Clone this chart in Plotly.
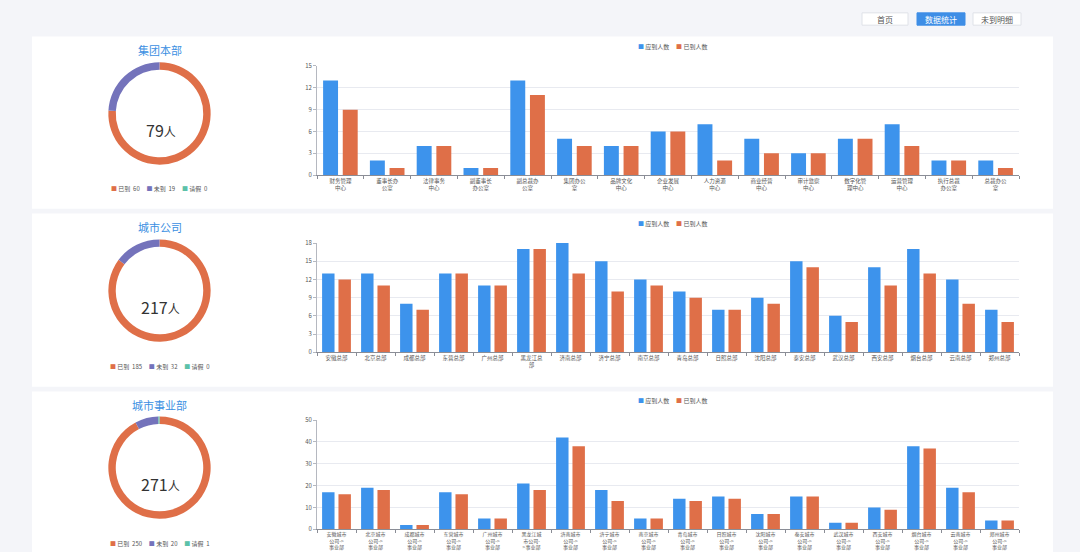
import plotly.graph_objects as go

W, H = 1080, 552
FONT = "Noto Sans CJK SC"

# ---------------- data ----------------
panel_titles = ["集团本部", "城市公司", "城市事业部"]
pie_labels = ["已到", "未到", "请假"]
pie_values = [
    [60, 19, 0],
    [185, 32, 0],
    [250, 20, 1],
]
series_names = ["应到人数", "已到人数"]

cats1 = ["财务管理中心", "董事长办公室", "法律事务中心", "副董事长办公室", "副总裁办公室",
         "集团办公室", "品牌文化中心", "企业发展中心", "人力资源中心", "商业经营中心",
         "审计监察中心", "数字化管理中心", "运营管理中心", "执行总裁办公室", "总裁办公室"]
due1 = [13, 2, 4, 1, 13, 5, 4, 6, 7, 5, 3, 5, 7, 2, 2]
arr1 = [9, 1, 4, 1, 11, 4, 4, 6, 2, 3, 3, 5, 4, 2, 1]

cats2 = ["安徽总部", "北京总部", "成都总部", "东营总部", "广州总部", "黑龙江总部",
         "济南总部", "济宁总部", "南京总部", "青岛总部", "日照总部", "沈阳总部",
         "泰安总部", "武汉总部", "西安总部", "烟台总部", "云南总部", "郑州总部"]
due2 = [13, 13, 8, 13, 11, 17, 18, 15, 12, 10, 7, 9, 15, 6, 14, 17, 12, 7]
arr2 = [12, 11, 7, 13, 11, 17, 13, 10, 11, 9, 7, 8, 14, 5, 11, 13, 8, 5]

cats3 = ["安徽城市公司->事业部", "北京城市公司->事业部", "成都城市公司->事业部",
         "东营城市公司->事业部", "广州城市公司->事业部", "黑龙江城市公司->事业部",
         "济南城市公司->事业部", "济宁城市公司->事业部", "南京城市公司->事业部",
         "青岛城市公司->事业部", "日照城市公司->事业部", "沈阳城市公司->事业部",
         "泰安城市公司->事业部", "武汉城市公司->事业部", "西安城市公司->事业部",
         "烟台城市公司->事业部", "云南城市公司->事业部", "郑州城市公司->事业部"]
due3 = [17, 19, 2, 17, 5, 21, 42, 18, 5, 14, 15, 7, 15, 3, 10, 38, 19, 4]
arr3 = [16, 18, 2, 16, 5, 18, 38, 13, 5, 13, 14, 7, 15, 3, 9, 37, 17, 4]

y_max = [15, 18, 50]
y_step = [3, 3, 10]

buttons = ["首页", "数据统计", "未到明细"]

# ---------------- style ----------------
BLUE = "#3d93ec"
ORANGE = "#df6f48"
PIE_COLORS = ["#df6f48", "#7473bb", "#5cc1a9"]
TITLE_BLUE = "#3b8fe2"
PAGE_BG = "#f4f5f9"

def px_x(x):
    return x / W

def px_y(y):
    return 1 - y / H

def wrap(s, n=4):
    return "<br>".join(s[i:i + n] for i in range(0, len(s), n))

cards = [(32, 207), (212, 388), (393, 560)]
pie_cy = [110.3, 290.3, 470.3]
pie_cx, pie_r = 159.5, 52
title_y = [46, 226, 407]
legend_pie_y = [187, 367, 547]
plot_top = [62, 242, 422]
plot_bot = [173, 353, 533]
bar_legend_y = [42, 222, 402]
tick_sizes = [5.5, 5.5, 5.0]
plot_x0, plot_x1 = 317, 1019

fig = go.Figure()
shapes = []
annotations = []

def note(text, x, y, size, color):
    annotations.append(dict(text=text, x=px_x(x), y=px_y(y), xref="paper", yref="paper",
                            xanchor="center", yanchor="middle", showarrow=False,
                            font=dict(size=size, color=color, family=FONT)))

panels = [(cats1, due1, arr1), (cats2, due2, arr2), (cats3, due3, arr3)]

for i, (cats, due, arr) in enumerate(panels):
    k = i + 1
    xa = "x" if k == 1 else f"x{k}"
    ya = "y" if k == 1 else f"y{k}"
    fig.add_trace(go.Bar(x=cats, y=due, name=series_names[0], marker_color=BLUE,
                         marker_line_width=0, xaxis=xa, yaxis=ya, showlegend=False))
    fig.add_trace(go.Bar(x=cats, y=arr, name=series_names[1], marker_color=ORANGE,
                         marker_line_width=0, xaxis=xa, yaxis=ya, showlegend=False))

    # donut
    cy = pie_cy[i]
    fig.add_trace(go.Pie(
        labels=pie_labels, values=pie_values[i], hole=0.855, sort=False,
        direction="clockwise", rotation=0, textinfo="none",
        marker=dict(colors=PIE_COLORS, line=dict(width=0)),
        domain=dict(x=[px_x(pie_cx - pie_r), px_x(pie_cx + pie_r)],
                    y=[px_y(cy + pie_r), px_y(cy - pie_r)]),
        showlegend=False))

    # axes
    xkey = "xaxis" if k == 1 else f"xaxis{k}"
    ykey = "yaxis" if k == 1 else f"yaxis{k}"
    fig.update_layout({
        xkey: dict(domain=[px_x(plot_x0), px_x(plot_x1)], anchor=ya,
                   tickvals=cats, ticktext=[wrap(c) for c in cats],
                   tickfont=dict(size=tick_sizes[i], color="#555", family=FONT),
                   showline=True, linecolor="#8a8d96", linewidth=1,
                   ticks="outside", tickson="boundaries", ticklen=3,
                   tickcolor="#8a8d96", showgrid=False, fixedrange=True),
        ykey: dict(domain=[px_y(plot_bot[i]), px_y(plot_top[i])], anchor=xa,
                   range=[0, y_max[i]], dtick=y_step[i], tick0=0,
                   tickfont=dict(size=6, color="#555", family=FONT),
                   showline=True, linecolor="#b5b8c0", linewidth=1,
                   ticks="outside", ticklen=3, tickcolor="#b5b8c0",
                   showgrid=True, gridcolor="#e8eaf0", gridwidth=1,
                   zeroline=False, fixedrange=True),
    })

    # card background
    shapes.append(dict(type="rect", xref="paper", yref="paper", layer="below",
                       x0=px_x(32), x1=px_x(1053), y0=px_y(cards[i][1]), y1=px_y(cards[i][0]),
                       fillcolor="white", line=dict(width=0)))

    # title
    note(panel_titles[i], pie_cx, title_y[i], 11, TITLE_BLUE)
    # center total
    total = sum(due)
    note(f"{total}<span style='font-size:12px'>人</span>", pie_cx + 1, cy + 16.5, 16, "#333")
    # pie legend
    parts = [f"<span style='color:{PIE_COLORS[j]}'>■</span> {pie_labels[j]}  {pie_values[i][j]}"
             for j in range(3)]
    note("     ".join(parts), pie_cx, legend_pie_y[i], 6, "#555")
    # bar legend
    note(f"<span style='color:{BLUE}'>■</span> {series_names[0]}     "
         f"<span style='color:{ORANGE}'>■</span> {series_names[1]}",
         672, bar_legend_y[i], 6, "#555")

# buttons
btn_x = [(862, 908), (917, 965), (973, 1021)]
for j, name in enumerate(buttons):
    active = j == 1
    shapes.append(dict(type="rect", xref="paper", yref="paper",
                       x0=px_x(btn_x[j][0]), x1=px_x(btn_x[j][1]),
                       y0=px_y(20.5), y1=px_y(8),
                       fillcolor="#3e8ee6" if active else "white",
                       line=dict(color="#3e8ee6" if active else "#dfe2e8", width=1)))
    note(name, sum(btn_x[j]) / 2, 14.3, 8, "white" if active else "#555")

fig.update_layout(
    width=W, height=H, margin=dict(l=0, r=0, t=0, b=0),
    paper_bgcolor=PAGE_BG, plot_bgcolor="rgba(0,0,0,0)",
    barmode="group", bargap=0.16, bargroupgap=0.24,
    font=dict(family=FONT),
    shapes=shapes, annotations=annotations,
    showlegend=False,
)

fig.write_html("out.html", config={"displayModeBar": False},
               post_script="document.body.style.margin='0';document.body.style.overflow='hidden';")
